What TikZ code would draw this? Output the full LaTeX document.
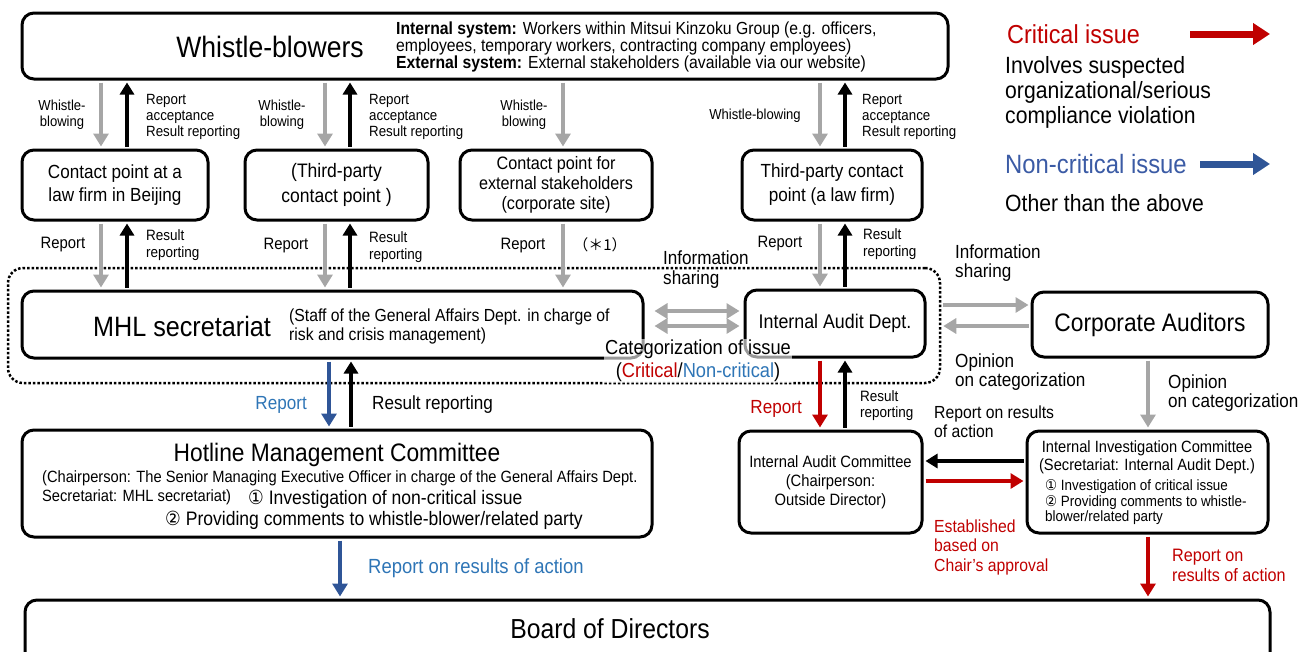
\documentclass[tikz,border=0pt]{standalone}
\usepackage{fontspec}
\setmainfont{Liberation Sans}[FakeStretch=0.9]
\newfontfamily\sym{DejaVu Sans}[FakeStretch=0.9]
\newfontfamily\cjk{Noto Sans CJK JP}
\usetikzlibrary{arrows.meta}
\definecolor{cred}{HTML}{C00000}
\definecolor{cblue}{HTML}{2F5597}
\definecolor{tblue}{HTML}{2E75B6}
\definecolor{lblue}{HTML}{3B5BA5}
\definecolor{cgray}{HTML}{A6A6A6}
\newcommand\fs[2]{\fontsize{#1}{#2}\selectfont}
\tikzset{
  box/.style={draw, line width=3pt, rounded corners=12pt, fill=white, inner sep=0pt, align=center},
  lbl/.style={inner sep=0pt, align=left},
  clbl/.style={inner sep=0pt, align=center},
  garr/.style={draw=cgray, line width=4.5pt, -{Triangle[width=15pt,length=13pt]}, shorten <=2pt, shorten >=2pt},
  karr/.style={draw=black, line width=3.5pt, -{Triangle[width=14pt,length=12pt]}, shorten <=2pt, shorten >=2pt},
  rarr/.style={draw=cred, line width=4.5pt, -{Triangle[width=15pt,length=13pt]}, shorten <=2pt, shorten >=2pt},
  barr/.style={draw=cblue, line width=4.5pt, -{Triangle[width=15pt,length=13pt]}, shorten <=2pt, shorten >=2pt},
  dgarr/.style={draw=cgray, line width=4.5pt, {Triangle[width=15pt,length=13pt]}-{Triangle[width=15pt,length=13pt]}},
  legarr/.style={line width=7pt, -{Triangle[width=21pt,length=17pt]}},
}
\begin{document}
\begin{tikzpicture}[x=1pt,y=-1pt]
\useasboundingbox (0,0) rectangle (1307,651);
\clip (0,0) rectangle (1307,651);

% dotted group frame
\node[draw, line width=2.5pt, dash pattern=on 2.5pt off 2pt, rounded corners=15pt, minimum width=932pt, minimum height=115pt, inner sep=0pt] (grp) at (474,325.5) {};

% boxes
\node[box, minimum width=926pt, minimum height=66pt] (wb) at (485,46) {};
\node[clbl, font=\fs{29.5}{32}] (wbt) at (270,47) {Whistle-blowers};
\node[lbl, anchor=west, font=\fs{17.5}{15.5}] (wbi) at (396,47) {\textbf{Internal system:} Workers within Mitsui Kinzoku Group (e.g. officers,\\employees, temporary workers, contracting company employees)\\\textbf{External system:} External stakeholders (available via our website)};

\node[box, minimum width=186pt, minimum height=70pt, font=\fs{19}{23.5}] (bj) at (115,185) {Contact point at a\\law firm in Beijing};
\node[box, minimum width=183pt, minimum height=70pt, font=\fs{19.5}{25}] (tp) at (336.5,185) {(Third-party\\contact point )};
\node[box, minimum width=192pt, minimum height=70pt, font=\fs{18}{20}] (cs) at (556,185) {Contact point for\\external stakeholders\\(corporate site)};
\node[box, minimum width=180pt, minimum height=70pt, font=\fs{19}{24}] (lf) at (832,185) {Third-party contact\\point (a law firm)};

\node[box, minimum width=621pt, minimum height=67pt] (mhl) at (332.5,324.5) {};
\node[clbl, font=\fs{28}{30}] (mhlt) at (182,326) {MHL secretariat};
\node[lbl, anchor=west, font=\fs{17.5}{19}] (mhln) at (289,326) {(Staff of the General Affairs Dept. in charge of\\risk and crisis management)};

\node[box, minimum width=180pt, minimum height=67pt, font=\fs{19.8}{20}] (iad) at (835,323.5) {Internal Audit Dept.};
\node[box, minimum width=236pt, minimum height=65pt, font=\fs{25.3}{28}] (ca) at (1150,324.5) {Corporate Auditors};

\node[box, minimum width=630pt, minimum height=107pt] (hmc) at (337,483.5) {};
\node[clbl, font=\fs{25.3}{28}] (hmct) at (337,455) {Hotline Management Committee};
\node[lbl, anchor=west, font=\fs{16.3}{16}] (hmc1) at (42,478) {(Chairperson: The Senior Managing Executive Officer in charge of the General Affairs Dept.};
\node[lbl, anchor=west, font=\fs{16.3}{16}] (hmc2) at (42,497) {Secretariat: MHL secretariat)};
\node[lbl, anchor=west, font=\fs{19.5}{19}] (hmc3) at (248,499) {{\sym ①} Investigation of non-critical issue};
\node[lbl, anchor=west, font=\fs{19.5}{19}] (hmc4) at (165,520) {{\sym ②} Providing comments to whistle-blower/related party};

\node[box, minimum width=183pt, minimum height=102pt, font=\fs{16.4}{19}] (iac) at (830.5,482) {Internal Audit Committee\\(Chairperson:\\Outside Director)};
\node[box, minimum width=241pt, minimum height=102pt] (iic) at (1147.5,482) {};
\node[clbl, font=\fs{16.3}{18}] (iict) at (1147,457) {Internal Investigation Committee\\(Secretariat: Internal Audit Dept.)};
\node[lbl, anchor=west, font=\fs{14.9}{15.5}] (iici) at (1045,502.5) {{\sym ①} Investigation of critical issue\\{\sym ②} Providing comments to whistle-\\blower/related party};

\node[box, minimum width=1245pt, minimum height=65pt] (bod) at (647.5,632.5) {};
\node[clbl, font=\fs{27.5}{30}] (bodt) at (610,629) {Board of Directors};

% legend
\node[lbl, anchor=west, text=cred, font=\fs{26}{28}] (leg1) at (1007,34) {Critical issue};
\coordinate (l1a) at (1190,34); \coordinate (l1b) at (1270,34);
\draw[legarr, cred] (l1a) -- (l1b);
\node[lbl, anchor=west, font=\fs{23.5}{25}] (leg1d) at (1005,92) {Involves suspected\\organizational/serious\\compliance violation};
\node[lbl, anchor=west, text=lblue, font=\fs{26.5}{28}] (leg2) at (1005,164) {Non-critical issue};
\coordinate (l2a) at (1200,164); \coordinate (l2b) at (1270,164);
\draw[legarr, cblue] (l2a) -- (l2b);
\node[lbl, anchor=west, font=\fs{23.5}{25}] (leg2d) at (1005,203) {Other than the above};

% arrows: whistle-blowers <-> row 2
\draw[garr] (wb.south -| 101,0) -- (bj.north -| 101,0);
\draw[karr] (bj.north -| 127,0) -- (wb.south -| 127,0);
\draw[garr] (wb.south -| 325,0) -- (tp.north -| 325,0);
\draw[karr] (tp.north -| 350,0) -- (wb.south -| 350,0);
\draw[garr] (wb.south -| 563,0) -- (cs.north -| 563,0);
\draw[garr] (wb.south -| 820,0) -- (lf.north -| 820,0);
\draw[karr] (lf.north -| 845,0) -- (wb.south -| 845,0);

% row 2 <-> MHL / IAD
\draw[garr] (bj.south -| 101,0) -- (mhl.north -| 101,0);
\draw[karr] (mhl.north -| 127,0) -- (bj.south -| 127,0);
\draw[garr] (tp.south -| 325,0) -- (mhl.north -| 325,0);
\draw[karr] (mhl.north -| 350,0) -- (tp.south -| 350,0);
\draw[garr] (cs.south -| 563,0) -- (mhl.north -| 563,0);
\draw[garr] (lf.south -| 820,0) -- (iad.north -| 820,0);
\draw[karr] (iad.north -| 845,0) -- (lf.south -| 845,0);

% information sharing
\draw[dgarr, shorten <=10pt, shorten >=4pt] (mhl.east |- 0,311) -- (iad.west |- 0,311);
\draw[dgarr, shorten <=10pt, shorten >=4pt] (mhl.east |- 0,326) -- (iad.west |- 0,326);
\draw[garr] (grp.east |- 0,305) -- (ca.west |- 0,305);
\draw[garr] (ca.west |- 0,326) -- (grp.east |- 0,326);
\draw[garr] (ca.south -| 1148,0) -- (iic.north -| 1148,0);

% lower arrows
\draw[barr] (mhl.south -| 329,0) -- (hmc.north -| 329,0);
\draw[karr] (hmc.north -| 351,0) -- (mhl.south -| 351,0);
\draw[rarr] (iad.south -| 820,0) -- (iac.north -| 820,0);
\draw[karr] (iac.north -| 845,0) -- (iad.south -| 845,0);
\draw[karr] (iic.west |- 0,461) -- (iac.east |- 0,461);
\draw[rarr] (iac.east |- 0,481) -- (iic.west |- 0,481);
\draw[barr] (hmc.south -| 340,0) -- (bod.north -| 340,0);
\draw[rarr] (iic.south -| 1148,0) -- (bod.north -| 1148,0);

% labels top
\node[clbl, font=\fs{14.5}{16}] (w1) at (62,115) {Whistle-\\blowing};
\node[lbl, anchor=west, font=\fs{14.8}{16}] (r1) at (146,117) {Report\\acceptance\\Result reporting};
\node[clbl, font=\fs{14.5}{16}] (w2) at (282,115) {Whistle-\\blowing};
\node[lbl, anchor=west, font=\fs{14.8}{16}] (r2) at (369,117) {Report\\acceptance\\Result reporting};
\node[clbl, font=\fs{14.5}{16}] (w3) at (524,115) {Whistle-\\blowing};
\node[clbl, font=\fs{14.5}{16}] (w4) at (755,116) {Whistle-blowing};
\node[lbl, anchor=west, font=\fs{14.8}{16}] (r4) at (862,117) {Report\\acceptance\\Result reporting};

% labels middle
\node[clbl, font=\fs{16.5}{18}] (p1) at (63,245) {Report};
\node[lbl, anchor=west, font=\fs{15}{17}] (q1) at (146,245.5) {Result\\reporting};
\node[clbl, font=\fs{16.5}{18}] (p2) at (286,246) {Report};
\node[lbl, anchor=west, font=\fs{15}{17}] (q2) at (369,247) {Result\\reporting};
\node[clbl, font=\fs{16.5}{18}] (p3) at (523,246) {Report};
\node[clbl, font=\fs{15}{18}] (p3n) at (600,245) {{\cjk （＊1）}};
\node[clbl, font=\fs{16.5}{18}] (p4) at (780,244) {Report};
\node[lbl, anchor=west, font=\fs{15}{17}] (q4) at (863,244) {Result\\reporting};

\node[lbl, anchor=west, font=\fs{19}{20}] (is1) at (663,270) {Information\\sharing};
\node[lbl, anchor=west, font=\fs{19}{18.5}] (is2) at (955,263) {Information\\sharing};
\node[lbl, anchor=west, font=\fs{19}{17.5}] (op1) at (955,372) {Opinion\\on categorization};
\node[lbl, anchor=west, font=\fs{19}{19}] (op2) at (1168,393) {Opinion\\on categorization};
\node[clbl, fill=white, fill opacity=0.6, text opacity=1, inner sep=1pt, font=\fs{20.3}{23}] (cat) at (698,361) {Categorization of issue\\(\textcolor{cred}{Critical}/\textcolor{tblue}{Non-critical})};

% labels lower
\node[lbl, anchor=east, text=tblue, font=\fs{19}{20}] (rb) at (307,405) {Report};
\node[lbl, anchor=west, font=\fs{19}{20}] (rrb) at (372,405) {Result reporting};
\node[lbl, anchor=east, text=cred, font=\fs{19}{20}] (rr) at (802,409) {Report};
\node[lbl, anchor=west, font=\fs{15}{16}] (rrr) at (860,406) {Result\\reporting};
\node[lbl, anchor=west, font=\fs{17.5}{19}] (roa) at (934,422) {Report on results\\of action};
\node[lbl, anchor=west, text=cred, font=\fs{17.5}{19.5}] (est) at (934,547) {Established\\based on\\Chair's approval};
\node[lbl, anchor=west, text=cred, font=\fs{18}{20}] (roa2) at (1172,565) {Report on\\results of action};
\node[lbl, anchor=west, text=tblue, font=\fs{20.5}{20}] (roa3) at (368,568) {Report on results of action};
\end{tikzpicture}
\end{document}
